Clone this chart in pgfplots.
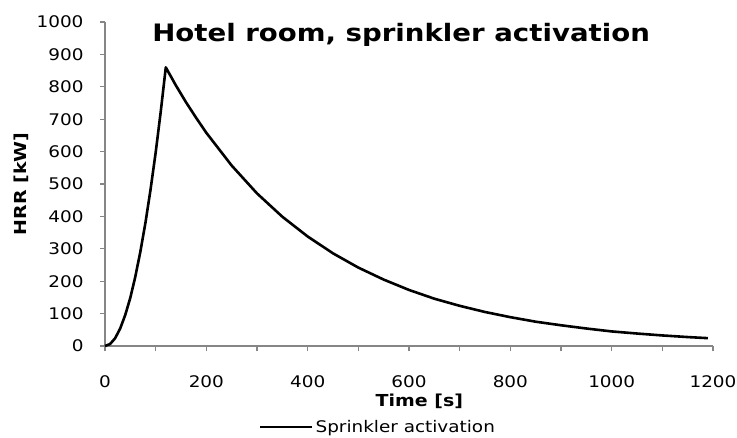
\documentclass[border=0pt]{standalone}
\usepackage{pgfplots}
\pgfplotsset{compat=1.18}
\usepackage{fontspec}
\setmainfont[FakeStretch=1.15]{DejaVu Sans}
\definecolor{axgray}{RGB}{134,134,134}
\begin{document}
\begin{tikzpicture}
\useasboundingbox (0,0) rectangle (737pt,437pt);
\begin{axis}[
  at={(105pt,91pt)}, anchor=south west,
  scale only axis, width=608pt, height=324pt,
  xmin=0, xmax=1200, ymin=0, ymax=1000,
  axis lines=left, axis line style={-, draw=axgray, line width=1.3pt},
  xtick={0,200,...,1200}, minor xtick={100,300,...,1100},
  ytick={0,100,...,1000},
  tick align=outside,
  major tick length=5pt, minor tick length=5pt,
  tick style={draw=axgray, line width=1.1pt},
  minor tick style={draw=axgray, line width=1.1pt},
  /pgf/number format/assume math mode=true,
  /pgf/number format/set thousands separator={},
  ticklabel style={font=\fontsize{16}{19}\selectfont},
  xticklabel style={yshift=-21pt},
  yticklabel style={xshift=-13pt},
  xlabel={\textbf{Time [s]}}, ylabel={\textbf{HRR [kW]}},
  xlabel style={font=\fontsize{16.5}{19}\selectfont, at={(rel axis cs:0.517,0)}, anchor=north, yshift=-44pt},
  ylabel style={font=\fontsize{16.5}{19}\selectfont, at={(rel axis cs:0,0.5)}, anchor=south, yshift=73pt},
  legend style={draw=none, fill=none, at={(rel axis cs:0.449,-0.25)}, anchor=center, font=\fontsize{16}{19}\selectfont, legend cell align=left, inner sep=0pt},
  legend image code/.code={\draw[#1, line width=2.5pt] (0pt,0pt) -- (52pt,0pt);},
  clip=false,
]
\addplot[black, line width=2.6pt, line join=round] coordinates {
(0,0) (10,6) (20,24) (30,54) (40,96) (50,149) (60,215) (70,293) (80,382) (90,484) (100,597) (110,723) (120,860)
(140,804) (160,752) (180,704) (200,658) (250,557) (300,471) (350,399) (400,338) (450,286) (500,242) (550,205) (600,173) (650,146) (700,124) (750,105) (800,89) (850,75) (900,64) (950,54) (1000,45) (1050,38.5) (1100,32.6) (1150,27.6) (1190,24.2)
};
\addlegendentry{Sprinkler activation}
\node[font=\fontsize{24}{28}\selectfont\bfseries, anchor=center] at (rel axis cs:0.487,0.96) {Hotel room, sprinkler activation};
\end{axis}
\end{tikzpicture}
\end{document}
